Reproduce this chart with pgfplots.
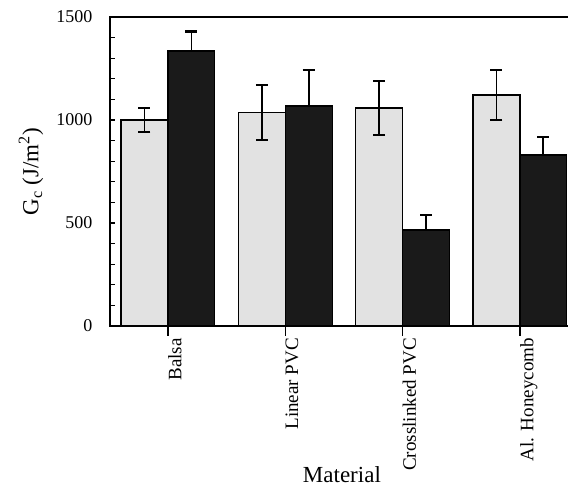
\documentclass[border=0pt]{standalone}
\usepackage{fontspec}
\setmainfont{Liberation Serif}
\usepackage{pgfplots}
\pgfplotsset{compat=1.18}
\definecolor{lightbar}{RGB}{226,226,226}
\definecolor{darkbar}{RGB}{26,26,26}
\begin{document}
\begin{tikzpicture}
\begin{axis}[
  name=ax,
  scale only axis,
  width=462pt, height=309pt,
  xmin=-0.494, xmax=3.444,
  ymin=0, ymax=1500,
  clip=false,
  ybar, bar width=0.4,
  axis line style={line width=1.3pt},
  xtick={0,1,2,3},
  xticklabels={Balsa, Linear PVC, Crosslinked PVC, Al. Honeycomb},
  xtick pos=bottom,
  x tick style={draw=none},
  x tick label style={yshift=-12pt, rotate=90, anchor=north east, inner sep=0pt, font=\fontsize{19}{21}\selectfont},
  ytick={0,500,1000,1500},
  minor y tick num=4,
  ytick pos=left,
  tick align=inside,
  major tick length=5pt, minor tick length=5pt,
  y tick style={line width=1.1pt, black},
  y tick label style={xshift=-14pt, font=\fontsize{18}{20}\selectfont},
  /pgf/number format/1000 sep={},
  /pgf/number format/assume math mode=true,
  ylabel={G\textsubscript{c} (J/m\textsuperscript{2})},
  ylabel style={at={(axis description cs:-0.171,0.5)}, anchor=center, font=\fontsize{23}{26}\selectfont},
  xlabel={Material},
  xlabel style={at={(axis description cs:0.502,-0.482)}, anchor=center, font=\fontsize{23}{26}\selectfont},
]
\addplot[fill=lightbar, draw=black, line width=1.2pt, bar shift=-0.2,
  error bars/.cd, y dir=both, y explicit,
  error bar style={line width=1.8pt, black},
  error mark options={rotate=90, mark size=6pt, line width=2.2pt, black}]
  coordinates {(0,1000) +- (0,58) (1,1035) +- (0,133) (2,1058) +- (0,130) (3,1121) +- (0,120)};
\addplot[fill=darkbar, draw=black, line width=1.2pt, bar shift=0.2,
  error bars/.cd, y dir=plus, y explicit,
  error bar style={line width=1.8pt, black},
  error mark options={rotate=90, mark size=6pt, line width=2.2pt, black}]
  coordinates {(0,1335) +- (0,95) (1,1068) +- (0,175) (2,466) +- (0,73) (3,830) +- (0,87)};
\draw[line width=1.2pt] (axis cs:0,0) -- ++(0pt,-10pt);
\draw[line width=1.2pt] (axis cs:1,0) -- ++(0pt,-10pt);
\draw[line width=1.2pt] (axis cs:2,0) -- ++(0pt,-10pt);
\draw[line width=1.2pt] (axis cs:3,0) -- ++(0pt,-10pt);
\end{axis}
\pgfresetboundingbox
\path ([xshift=-110pt,yshift=-162pt]ax.south west) rectangle ([xshift=458pt,yshift=17pt]ax.north west);
\end{tikzpicture}
\end{document}
